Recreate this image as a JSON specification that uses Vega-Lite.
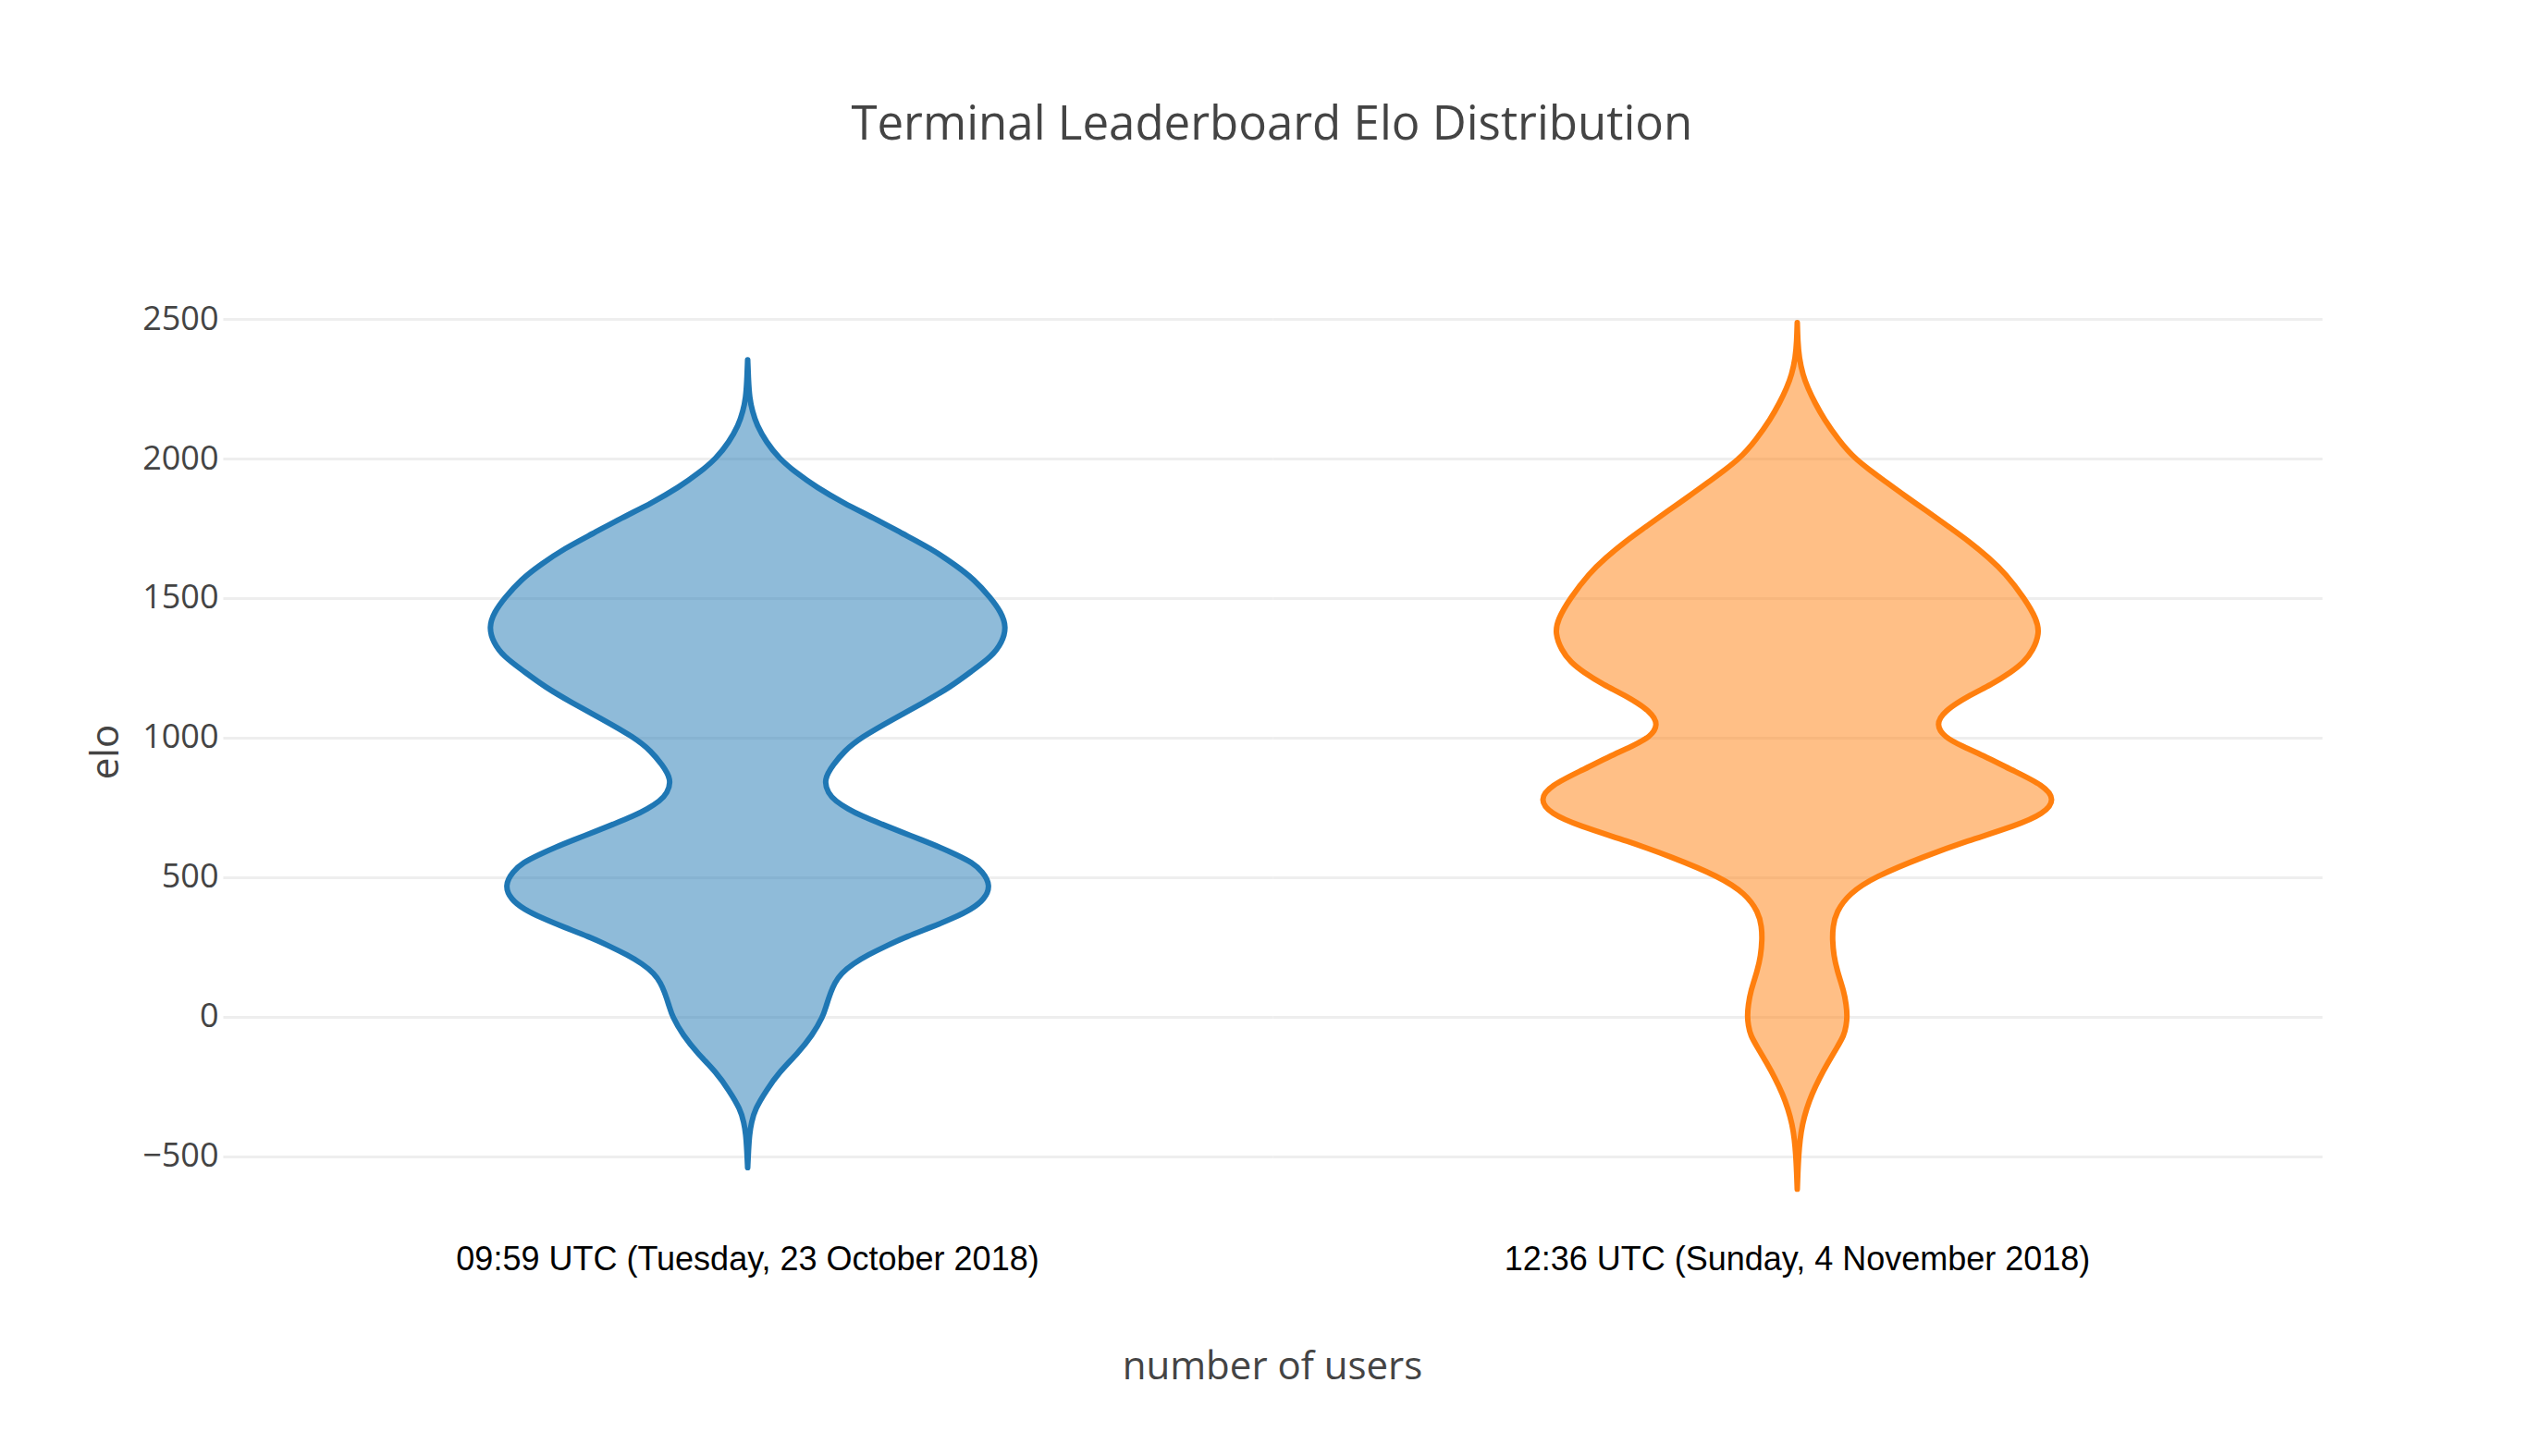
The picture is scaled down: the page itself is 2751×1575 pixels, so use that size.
{
  "$schema": "https://vega.github.io/schema/vega-lite/v6.json",
  "background": "white",
  "padding": {"left": 93, "top": 110, "right": 241, "bottom": 40},
  "title": {"text": "Terminal Leaderboard Elo Distribution", "font": "Open Sans", "fontSize": 51, "fontWeight": "normal", "color": "#444", "anchor": "middle", "offset": 165, "dx": 73},
  "data": {"values": [
    {"time": "09:59 UTC (Tuesday, 23 October 2018)", "elo": 2354, "width": 0},
    {"time": "09:59 UTC (Tuesday, 23 October 2018)", "elo": 2280, "width": 0.0029},
    {"time": "09:59 UTC (Tuesday, 23 October 2018)", "elo": 2219, "width": 0.0071},
    {"time": "09:59 UTC (Tuesday, 23 October 2018)", "elo": 2170, "width": 0.0179},
    {"time": "09:59 UTC (Tuesday, 23 October 2018)", "elo": 2119, "width": 0.0357},
    {"time": "09:59 UTC (Tuesday, 23 October 2018)", "elo": 2060, "width": 0.0714},
    {"time": "09:59 UTC (Tuesday, 23 October 2018)", "elo": 2000, "width": 0.1214},
    {"time": "09:59 UTC (Tuesday, 23 October 2018)", "elo": 1950, "width": 0.1857},
    {"time": "09:59 UTC (Tuesday, 23 October 2018)", "elo": 1898, "width": 0.2643},
    {"time": "09:59 UTC (Tuesday, 23 October 2018)", "elo": 1840, "width": 0.3714},
    {"time": "09:59 UTC (Tuesday, 23 October 2018)", "elo": 1788, "width": 0.4857},
    {"time": "09:59 UTC (Tuesday, 23 October 2018)", "elo": 1730, "width": 0.6},
    {"time": "09:59 UTC (Tuesday, 23 October 2018)", "elo": 1678, "width": 0.7071},
    {"time": "09:59 UTC (Tuesday, 23 October 2018)", "elo": 1620, "width": 0.8},
    {"time": "09:59 UTC (Tuesday, 23 October 2018)", "elo": 1567, "width": 0.875},
    {"time": "09:59 UTC (Tuesday, 23 October 2018)", "elo": 1500, "width": 0.9393},
    {"time": "09:59 UTC (Tuesday, 23 October 2018)", "elo": 1450, "width": 0.9786},
    {"time": "09:59 UTC (Tuesday, 23 October 2018)", "elo": 1396, "width": 1.0},
    {"time": "09:59 UTC (Tuesday, 23 October 2018)", "elo": 1340, "width": 0.9821},
    {"time": "09:59 UTC (Tuesday, 23 October 2018)", "elo": 1291, "width": 0.9429},
    {"time": "09:59 UTC (Tuesday, 23 October 2018)", "elo": 1240, "width": 0.8679},
    {"time": "09:59 UTC (Tuesday, 23 October 2018)", "elo": 1181, "width": 0.7821},
    {"time": "09:59 UTC (Tuesday, 23 October 2018)", "elo": 1125, "width": 0.6786},
    {"time": "09:59 UTC (Tuesday, 23 October 2018)", "elo": 1071, "width": 0.5714},
    {"time": "09:59 UTC (Tuesday, 23 October 2018)", "elo": 1000, "width": 0.4357},
    {"time": "09:59 UTC (Tuesday, 23 October 2018)", "elo": 950, "width": 0.3714},
    {"time": "09:59 UTC (Tuesday, 23 October 2018)", "elo": 905, "width": 0.3321},
    {"time": "09:59 UTC (Tuesday, 23 October 2018)", "elo": 850, "width": 0.2929},
    {"time": "09:59 UTC (Tuesday, 23 October 2018)", "elo": 800, "width": 0.3107},
    {"time": "09:59 UTC (Tuesday, 23 October 2018)", "elo": 773, "width": 0.3393},
    {"time": "09:59 UTC (Tuesday, 23 October 2018)", "elo": 745, "width": 0.3857},
    {"time": "09:59 UTC (Tuesday, 23 October 2018)", "elo": 718, "width": 0.4429},
    {"time": "09:59 UTC (Tuesday, 23 October 2018)", "elo": 690, "width": 0.5179},
    {"time": "09:59 UTC (Tuesday, 23 October 2018)", "elo": 662, "width": 0.5929},
    {"time": "09:59 UTC (Tuesday, 23 October 2018)", "elo": 635, "width": 0.6679},
    {"time": "09:59 UTC (Tuesday, 23 October 2018)", "elo": 607, "width": 0.7429},
    {"time": "09:59 UTC (Tuesday, 23 October 2018)", "elo": 580, "width": 0.8071},
    {"time": "09:59 UTC (Tuesday, 23 October 2018)", "elo": 552, "width": 0.8679},
    {"time": "09:59 UTC (Tuesday, 23 October 2018)", "elo": 520, "width": 0.9071},
    {"time": "09:59 UTC (Tuesday, 23 October 2018)", "elo": 470, "width": 0.9393},
    {"time": "09:59 UTC (Tuesday, 23 October 2018)", "elo": 420, "width": 0.9143},
    {"time": "09:59 UTC (Tuesday, 23 October 2018)", "elo": 385, "width": 0.8643},
    {"time": "09:59 UTC (Tuesday, 23 October 2018)", "elo": 354, "width": 0.7964},
    {"time": "09:59 UTC (Tuesday, 23 October 2018)", "elo": 320, "width": 0.7071},
    {"time": "09:59 UTC (Tuesday, 23 October 2018)", "elo": 287, "width": 0.6143},
    {"time": "09:59 UTC (Tuesday, 23 October 2018)", "elo": 254, "width": 0.5357},
    {"time": "09:59 UTC (Tuesday, 23 October 2018)", "elo": 221, "width": 0.4643},
    {"time": "09:59 UTC (Tuesday, 23 October 2018)", "elo": 190, "width": 0.4071},
    {"time": "09:59 UTC (Tuesday, 23 October 2018)", "elo": 155, "width": 0.3607},
    {"time": "09:59 UTC (Tuesday, 23 October 2018)", "elo": 120, "width": 0.3357},
    {"time": "09:59 UTC (Tuesday, 23 October 2018)", "elo": 89, "width": 0.3214},
    {"time": "09:59 UTC (Tuesday, 23 October 2018)", "elo": 40, "width": 0.3036},
    {"time": "09:59 UTC (Tuesday, 23 October 2018)", "elo": 0, "width": 0.2911},
    {"time": "09:59 UTC (Tuesday, 23 October 2018)", "elo": -66, "width": 0.25},
    {"time": "09:59 UTC (Tuesday, 23 October 2018)", "elo": -132, "width": 0.1929},
    {"time": "09:59 UTC (Tuesday, 23 October 2018)", "elo": -199, "width": 0.1214},
    {"time": "09:59 UTC (Tuesday, 23 October 2018)", "elo": -265, "width": 0.0714},
    {"time": "09:59 UTC (Tuesday, 23 October 2018)", "elo": -331, "width": 0.0286},
    {"time": "09:59 UTC (Tuesday, 23 October 2018)", "elo": -380, "width": 0.0143},
    {"time": "09:59 UTC (Tuesday, 23 October 2018)", "elo": -420, "width": 0.0071},
    {"time": "09:59 UTC (Tuesday, 23 October 2018)", "elo": -480, "width": 0.0029},
    {"time": "09:59 UTC (Tuesday, 23 October 2018)", "elo": -541, "width": 0},
    {"time": "12:36 UTC (Sunday, 4 November 2018)", "elo": 2487, "width": 0},
    {"time": "12:36 UTC (Sunday, 4 November 2018)", "elo": 2420, "width": 0.0021},
    {"time": "12:36 UTC (Sunday, 4 November 2018)", "elo": 2362, "width": 0.0071},
    {"time": "12:36 UTC (Sunday, 4 November 2018)", "elo": 2300, "width": 0.0214},
    {"time": "12:36 UTC (Sunday, 4 November 2018)", "elo": 2252, "width": 0.0411},
    {"time": "12:36 UTC (Sunday, 4 November 2018)", "elo": 2200, "width": 0.0679},
    {"time": "12:36 UTC (Sunday, 4 November 2018)", "elo": 2141, "width": 0.1036},
    {"time": "12:36 UTC (Sunday, 4 November 2018)", "elo": 2070, "width": 0.1571},
    {"time": "12:36 UTC (Sunday, 4 November 2018)", "elo": 1998, "width": 0.2214},
    {"time": "12:36 UTC (Sunday, 4 November 2018)", "elo": 1921, "width": 0.3357},
    {"time": "12:36 UTC (Sunday, 4 November 2018)", "elo": 1865, "width": 0.4179},
    {"time": "12:36 UTC (Sunday, 4 November 2018)", "elo": 1810, "width": 0.5036},
    {"time": "12:36 UTC (Sunday, 4 November 2018)", "elo": 1755, "width": 0.5857},
    {"time": "12:36 UTC (Sunday, 4 November 2018)", "elo": 1700, "width": 0.6679},
    {"time": "12:36 UTC (Sunday, 4 November 2018)", "elo": 1645, "width": 0.7393},
    {"time": "12:36 UTC (Sunday, 4 November 2018)", "elo": 1589, "width": 0.8036},
    {"time": "12:36 UTC (Sunday, 4 November 2018)", "elo": 1498, "width": 0.8786},
    {"time": "12:36 UTC (Sunday, 4 November 2018)", "elo": 1424, "width": 0.925},
    {"time": "12:36 UTC (Sunday, 4 November 2018)", "elo": 1374, "width": 0.9357},
    {"time": "12:36 UTC (Sunday, 4 November 2018)", "elo": 1313, "width": 0.9107},
    {"time": "12:36 UTC (Sunday, 4 November 2018)", "elo": 1270, "width": 0.875},
    {"time": "12:36 UTC (Sunday, 4 November 2018)", "elo": 1236, "width": 0.8286},
    {"time": "12:36 UTC (Sunday, 4 November 2018)", "elo": 1190, "width": 0.75},
    {"time": "12:36 UTC (Sunday, 4 November 2018)", "elo": 1148, "width": 0.6571},
    {"time": "12:36 UTC (Sunday, 4 November 2018)", "elo": 1093, "width": 0.5643},
    {"time": "12:36 UTC (Sunday, 4 November 2018)", "elo": 1046, "width": 0.5357},
    {"time": "12:36 UTC (Sunday, 4 November 2018)", "elo": 1002, "width": 0.5679},
    {"time": "12:36 UTC (Sunday, 4 November 2018)", "elo": 970, "width": 0.6357},
    {"time": "12:36 UTC (Sunday, 4 November 2018)", "elo": 938, "width": 0.7143},
    {"time": "12:36 UTC (Sunday, 4 November 2018)", "elo": 884, "width": 0.8286},
    {"time": "12:36 UTC (Sunday, 4 November 2018)", "elo": 828, "width": 0.9536},
    {"time": "12:36 UTC (Sunday, 4 November 2018)", "elo": 778, "width": 0.9964},
    {"time": "12:36 UTC (Sunday, 4 November 2018)", "elo": 728, "width": 0.9536},
    {"time": "12:36 UTC (Sunday, 4 November 2018)", "elo": 684, "width": 0.8429},
    {"time": "12:36 UTC (Sunday, 4 November 2018)", "elo": 629, "width": 0.6536},
    {"time": "12:36 UTC (Sunday, 4 November 2018)", "elo": 574, "width": 0.4893},
    {"time": "12:36 UTC (Sunday, 4 November 2018)", "elo": 502, "width": 0.3},
    {"time": "12:36 UTC (Sunday, 4 November 2018)", "elo": 441, "width": 0.2},
    {"time": "12:36 UTC (Sunday, 4 November 2018)", "elo": 375, "width": 0.15},
    {"time": "12:36 UTC (Sunday, 4 November 2018)", "elo": 322, "width": 0.1375},
    {"time": "12:36 UTC (Sunday, 4 November 2018)", "elo": 276, "width": 0.1357},
    {"time": "12:36 UTC (Sunday, 4 November 2018)", "elo": 218, "width": 0.1411},
    {"time": "12:36 UTC (Sunday, 4 November 2018)", "elo": 166, "width": 0.1536},
    {"time": "12:36 UTC (Sunday, 4 November 2018)", "elo": 91, "width": 0.1804},
    {"time": "12:36 UTC (Sunday, 4 November 2018)", "elo": 42, "width": 0.1893},
    {"time": "12:36 UTC (Sunday, 4 November 2018)", "elo": 2, "width": 0.1929},
    {"time": "12:36 UTC (Sunday, 4 November 2018)", "elo": -30, "width": 0.1893},
    {"time": "12:36 UTC (Sunday, 4 November 2018)", "elo": -68, "width": 0.1804},
    {"time": "12:36 UTC (Sunday, 4 November 2018)", "elo": -110, "width": 0.1536},
    {"time": "12:36 UTC (Sunday, 4 November 2018)", "elo": -166, "width": 0.1179},
    {"time": "12:36 UTC (Sunday, 4 November 2018)", "elo": -220, "width": 0.0857},
    {"time": "12:36 UTC (Sunday, 4 November 2018)", "elo": -276, "width": 0.0571},
    {"time": "12:36 UTC (Sunday, 4 November 2018)", "elo": -330, "width": 0.0357},
    {"time": "12:36 UTC (Sunday, 4 November 2018)", "elo": -386, "width": 0.0196},
    {"time": "12:36 UTC (Sunday, 4 November 2018)", "elo": -440, "width": 0.0107},
    {"time": "12:36 UTC (Sunday, 4 November 2018)", "elo": -497, "width": 0.0054},
    {"time": "12:36 UTC (Sunday, 4 November 2018)", "elo": -560, "width": 0.0021},
    {"time": "12:36 UTC (Sunday, 4 November 2018)", "elo": -618, "width": 0}
  ]},
  "facet": {
    "column": {
      "field": "time", "type": "nominal",
      "sort": ["09:59 UTC (Tuesday, 23 October 2018)", "12:36 UTC (Sunday, 4 November 2018)"],
      "title": "number of users",
      "header": {
        "labelOrient": "bottom", "titleOrient": "bottom",
        "labelFont": "Liberation Sans", "labelFontSize": 36, "labelColor": "#000", "labelPadding": 50,
        "titleFont": "Open Sans", "titleFontSize": 42, "titleColor": "#444", "titleFontWeight": "normal", "titlePadding": 68
      }
    }
  },
  "spacing": 0,
  "spec": {
    "width": 1135,
    "height": 966,
    "mark": {"type": "area", "orient": "horizontal", "interpolate": "basis", "fillOpacity": 0.5, "strokeWidth": 6, "strokeJoin": "round"},
    "encoding": {
      "y": {
        "field": "elo", "type": "quantitative",
        "scale": {"domain": [-650, 2550], "nice": false, "zero": false},
        "axis": {"values": [-500, 0, 500, 1000, 1500, 2000, 2500], "format": "d", "title": "elo", "labelPadding": 5, "titlePadding": 17}
      },
      "x": {
        "field": "width", "type": "quantitative", "stack": "center", "impute": null,
        "scale": {"domain": [-0.5134, 1.5134], "nice": false, "zero": false},
        "axis": null
      },
      "fill": {
        "field": "time", "type": "nominal",
        "scale": {"domain": ["09:59 UTC (Tuesday, 23 October 2018)", "12:36 UTC (Sunday, 4 November 2018)"], "range": ["#1f77b4", "#ff7f0e"]},
        "legend": null
      },
      "stroke": {
        "field": "time", "type": "nominal",
        "scale": {"domain": ["09:59 UTC (Tuesday, 23 October 2018)", "12:36 UTC (Sunday, 4 November 2018)"], "range": ["#1f77b4", "#ff7f0e"]},
        "legend": null
      }
    }
  },
  "config": {
    "view": {"stroke": null},
    "axis": {
      "labelFont": "Open Sans", "labelFontSize": 36, "labelColor": "#444",
      "titleFont": "Open Sans", "titleFontSize": 42, "titleColor": "#444", "titleFontWeight": "normal",
      "gridColor": "#eee", "gridWidth": 3, "domain": false, "ticks": false
    }
  }
}
